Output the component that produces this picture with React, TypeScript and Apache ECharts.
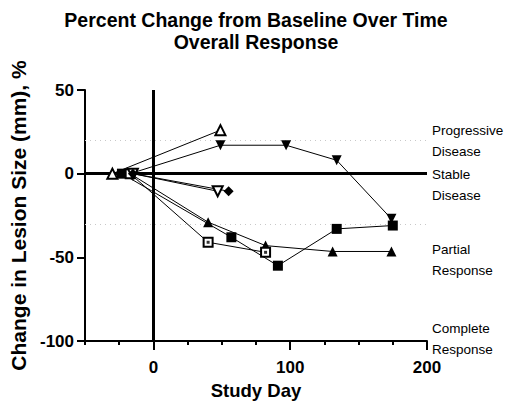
import React, { useEffect, useRef } from "react";
import * as echarts from "echarts";

const FONT = "Liberation Sans, Arial, sans-serif";

const titleLines = ["Percent Change from Baseline Over Time", "Overall Response"];
const xTickLabels = [0, 100, 200];
const yTicks = [-100, -50, 0, 50];
const responseLabels = ["Progressive\nDisease", "Stable\nDisease", "Partial\nResponse", "Complete\nResponse"];
const thresholds = [20, -30];

const openTriUp: [number, number][] = [[-30, 0], [49, 26]];
const filledTriDown: [number, number][] = [[-17, 0], [49, 17], [97, 17], [134, 8], [174, -27]];
const filledSquare: [number, number][] = [[-23, 0], [57, -38], [91, -55], [134, -33], [175, -31]];
const filledTriUp: [number, number][] = [[-17, 0], [40, -29], [82, -43], [131, -46.5], [174, -46.5]];
const openSquare: [number, number][] = [[-17, 0], [40, -41], [82, -47]];
const openTriDown: [number, number][] = [[-15, 0], [47, -10.5]];
const filledDiamond: [number, number][] = [[-15, 0], [55, -10.5]];

export default function App() {
  const ref = useRef<HTMLDivElement>(null);
  useEffect(() => {
    if (!ref.current) return;
    const chart = echarts.init(ref.current, undefined, { renderer: "svg" });
    const line = (name: string, data: [number, number][], symbol: string, size: number, filled: boolean, rotate = 0) => ({
      name,
      type: "line",
      data,
      symbol,
      symbolSize: size,
      symbolRotate: rotate,
      showAllSymbol: true,
      lineStyle: { color: "#000", width: 1 },
      itemStyle: filled
        ? { color: "#000", borderColor: "#000", borderWidth: 0 }
        : { color: "#fff", borderColor: "#000", borderWidth: 2 },
      z: 5,
    });
    chart.setOption({
      animation: false,
      backgroundColor: "#fff",
      title: {
        text: titleLines.join("\n"),
        left: "center",
        top: 9,
        padding: 0,
        textStyle: { fontFamily: FONT, fontSize: 19.5, fontWeight: "bold", color: "#000", lineHeight: 22 },
      },
      grid: { left: 85, right: 85, top: 90, bottom: 64, containLabel: false },
      xAxis: [
        {
          type: "value",
          min: -50,
          max: 200,
          interval: 50,
          name: "Study Day",
          nameLocation: "middle",
          nameGap: 33,
          nameTextStyle: { fontFamily: FONT, fontSize: 18.5, fontWeight: "bold", color: "#000" },
          axisLine: { show: true, onZero: false, lineStyle: { color: "#000", width: 2 } },
          axisTick: { show: true, length: 9, lineStyle: { color: "#000", width: 2 }, customValues: xTickLabels },
          axisLabel: { customValues: xTickLabels, fontFamily: FONT, fontSize: 17, fontWeight: "bold", color: "#000", margin: 18 },
          splitLine: { show: false },
        },
        {
          type: "value",
          min: -50,
          max: 200,
          interval: 25,
          position: "bottom",
          axisLine: { show: false, onZero: false },
          axisTick: { show: true, length: 4, lineStyle: { color: "#000", width: 2 } },
          axisLabel: { show: false },
          splitLine: { show: false },
        },
      ],
      yAxis: {
        type: "value",
        min: -100,
        max: 50,
        interval: 50,
        name: "Change in Lesion Size (mm), %",
        nameLocation: "middle",
        nameGap: 42,
        nameTextStyle: { fontFamily: FONT, fontSize: 21, fontWeight: "bold", color: "#000" },
        axisLine: { show: true, onZero: false, lineStyle: { color: "#000", width: 2 } },
        axisTick: { show: true, length: 8, lineStyle: { color: "#000", width: 2 }, customValues: yTicks },
        axisLabel: { fontFamily: FONT, fontSize: 17, fontWeight: "bold", color: "#000", margin: 11, customValues: yTicks },
        splitLine: { show: false },
      },
      series: [
        {
          type: "line",
          data: [],
          silent: true,
          markLine: {
            silent: true,
            symbol: "none",
            label: { show: false },
            data: [
              { xAxis: 0, lineStyle: { color: "#000", width: 3, type: "solid" } },
              { yAxis: 0, lineStyle: { color: "#000", width: 3, type: "solid" } },
              ...thresholds.map((t) => ({ yAxis: t, lineStyle: { color: "#c8c8c8", width: 1, type: [1, 4] } })),
            ],
          },
        },
        line("open up triangle", openTriUp, "triangle", 10, false),
        line("filled down triangle", filledTriDown, "triangle", 10, true, 180),
        line("filled square", filledSquare, "rect", 10, true),
        line("filled up triangle", filledTriUp, "triangle", 10, true),
        line("open square", openSquare, "rect", 9, false),
        line("open down triangle", openTriDown, "triangle", 10, false, 180),
        line("filled diamond", filledDiamond, "diamond", 10, true),
        {
          name: "open square dot",
          type: "scatter",
          data: openSquare.slice(1),
          symbol: "rect",
          symbolSize: 3,
          itemStyle: { color: "#000" },
          z: 6,
        },
      ],
      graphic: responseLabels.map((t, i) => ({
        type: "text",
        left: 432,
        top: [120, 164, 239, 318][i],
        style: { text: t, fontFamily: FONT, fontSize: 13.5, fill: "#000", lineHeight: 21 },
      })),
    });
    return () => chart.dispose();
  }, []);
  return <div ref={ref} style={{ width: 512, height: 405, marginLeft: -8, marginTop: -8 }} />;
}
